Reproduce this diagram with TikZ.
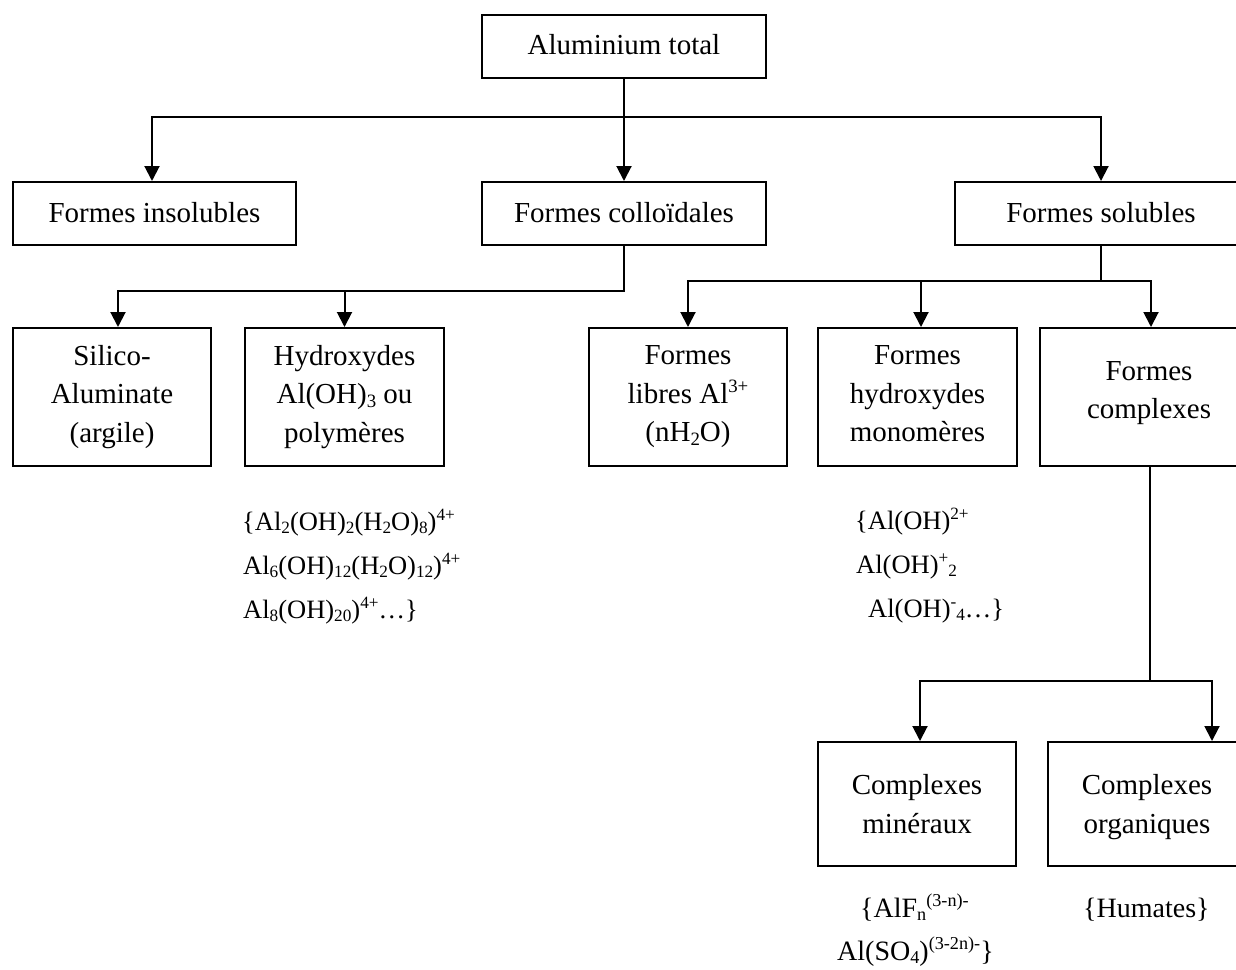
\documentclass[tikz,border=0pt]{standalone}
\usepackage{fontspec}
\setmainfont{Liberation Serif}
\usetikzlibrary{arrows.meta}

% raised / lowered indices in the style of a word processor
\makeatletter
\newcommand\idxsize{\fontsize{\strip@pt\dimexpr.65\dimexpr\f@size pt\relax\relax}{0}\selectfont}
\makeatother
\newcommand\hi[1]{\raisebox{.36em}{\idxsize #1}}
\newcommand\lo[1]{\raisebox{-.14em}{\idxsize #1}}
\newcommand\boxfont{\fontsize{29}{38.5}\selectfont}
\newcommand\chemfont{\fontsize{26.5}{30}\selectfont}
\newcommand\chemfontb{\fontsize{28}{30}\selectfont}

\tikzset{
  box/.style={draw, line width=2pt, align=center, inner sep=0pt, font=\boxfont},
  link/.style={line width=2pt},
  fine/.style={line width=1.3pt},
  tip/.tip={Triangle[length=15pt,width=15pt]},
  arr/.style={link, -tip},
  arrs/.style={link, tip-tip},
  arrl/.style={link, tip-},
  chem/.style={anchor=base west, inner sep=0pt, font=\chemfont},
  chemb/.style={anchor=base west, inner sep=0pt, font=\chemfontb},
}

\begin{document}
\begin{tikzpicture}[x=1pt,y=-1pt]
\useasboundingbox (0,0) rectangle (1236,969);
\clip (0,0) rectangle (1236,969);
\fill[white] (0,0) rectangle (1236,969);

% ---- boxes ----
\node[box, minimum width=284pt, minimum height=63pt, text depth=5pt] (tot) at (624,46.5) {Aluminium total};

\node[box, minimum width=283pt, minimum height=63pt, text depth=3pt] (ins) at (154.5,213.5) {Formes insolubles};
\node[box, minimum width=284pt, minimum height=63pt, text depth=3pt] (col) at (624,213.5) {Formes colloïdales};
\node[box, minimum width=292pt, minimum height=63pt, text depth=3pt] (sol) at (1101,213.5) {Formes solubles};

\node[box, minimum width=198pt, minimum height=138pt] (sil) at (112,397) {Silico-\\Aluminate\\(argile)};
\node[box, minimum width=199pt, minimum height=138pt] (hyd) at (344.5,397) {Hydroxydes\\Al(OH)\lo{3} ou\\polymères};
\node[box, minimum width=198pt, minimum height=138pt] (lib) at (688,397) {Formes\\libres Al\hi{3+}\\(nH\lo{2}O)};
\node[box, minimum width=199pt, minimum height=138pt, text depth=6.3pt] (mon) at (917.5,397) {Formes\\hydroxydes\\monomères};
\node[box, minimum width=218pt, minimum height=138pt, text depth=14pt] (cpx) at (1149,397) {Formes\\complexes};

\node[box, minimum width=198pt, minimum height=124pt] (min) at (917,804) {Complexes\\minéraux};
\node[box, minimum width=198pt, minimum height=124pt, text depth=0pt] (org) at (1147,804) {Complexes\\organiques};

% ---- species listed under the boxes ----
\node[chem] (c1) at (242,530) {\{Al\lo{2}(OH)\lo{2}(H\lo{2}O)\lo{8})\hi{4+}};
\node[chem] (c2) at (243,574) {Al\lo{6}(OH)\lo{12}(H\lo{2}O)\lo{12})\hi{4+}};
\node[chem] (c3) at (243,618) {Al\lo{8}(OH)\lo{20})\hi{4+}\ldots\}};

\node[chem] (m1) at (855,529) {\{Al(OH)\hi{2+}};
\node[chem] (m2) at (856,573) {Al(OH)\hi{+}\lo{2}};
\node[chem] (m3) at (868,617) {Al(OH)\hi{-}\lo{4}\ldots\}};

\node[chemb] (k1) at (860,917) {\{AlF\lo{n}\hi{(3-n)-}};
\node[chemb] (k2) at (837,960) {Al(SO\lo{4})\hi{(3-2n)-}\}};
\node[chemb] (h1) at (1083,917) {\{Humates\}};

% ---- connectors ----
\coordinate (j0) at (624,117);
\coordinate (j1) at (624,291);
\coordinate (j2) at (1101,281);
\coordinate (j3) at (1150,681);

\draw[arr] (tot) -- (col);
\draw[arrs] ([xshift=-2.5pt]ins.north) -- ([xshift=-2.5pt]ins.north |- j0) -- (sol.north |- j0) -- (sol.north);

\draw[arrl] ([xshift=6pt]sil.north) -- ([xshift=6pt]sil.north |- j1) -- (j1) -- (col.south);
\draw[arr] (hyd.north |- j1) -- (hyd.north);

\draw[fine] (sol.south) -- (j2);
\draw[arrs] (lib.north) -- (lib.north |- j2) -- ([xshift=2pt]cpx.north |- j2) -- ([xshift=2pt]cpx.north);
\draw[arr] ([xshift=3.5pt]mon.north |- j2) -- ([xshift=3.5pt]mon.north);

\draw[fine] (cpx.south -| j3) -- (j3);
\draw[arrs] ([xshift=3pt]min.north) -- ([xshift=3pt]min.north |- j3) -- ([xshift=65pt]org.north |- j3) -- ([xshift=65pt]org.north);
\end{tikzpicture}
\end{document}
